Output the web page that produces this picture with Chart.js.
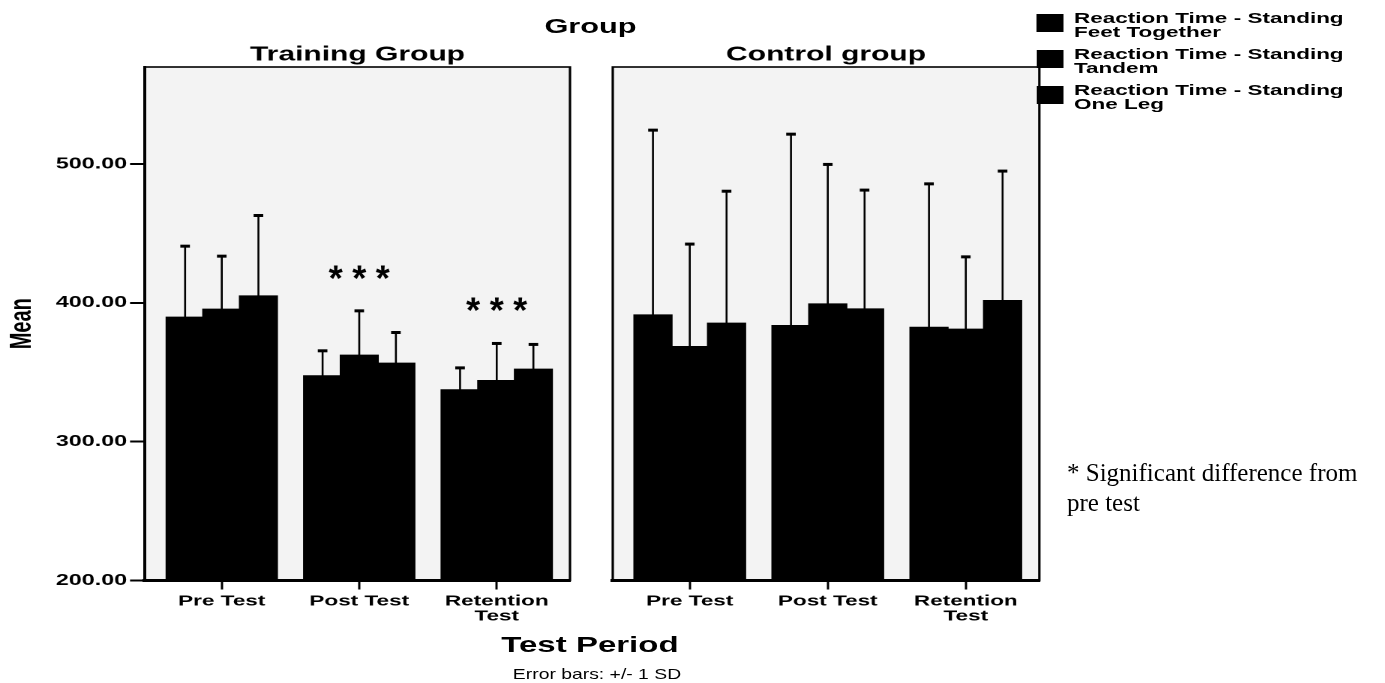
<!DOCTYPE html>
<html><head><meta charset="utf-8">
<script src="https://cdn.jsdelivr.net/npm/chart.js@4.4.1/dist/chart.umd.min.js"></script>
<style>
html,body{margin:0;padding:0;background:#fff;}
body{width:1385px;height:683px;overflow:hidden;position:relative;font-family:'Liberation Sans',Arial,sans-serif;color:#000;}
#stretch{position:absolute;left:0;top:0;width:923.33px;height:683px;transform:scaleX(1.5);transform-origin:0 0;}
canvas{position:absolute;top:0;}
.txt{position:absolute;white-space:nowrap;color:#000;}
.sw{position:absolute;width:18px;height:18px;background:#000;z-index:3;}
.lt{position:absolute;white-space:nowrap;font-weight:bold;font-size:15px;line-height:14px;z-index:3;}
#footnote{position:absolute;left:1067px;top:458px;font-family:'Liberation Serif','Times New Roman',serif;font-size:25px;line-height:30px;white-space:nowrap;color:#000;}
</style></head>
<body>
<div id="stretch">
  <canvas id="leftChart" width="384" height="683" style="left:0px"></canvas>
  <canvas id="rightChart" width="300" height="683" style="left:400px"></canvas>
  <div class="txt" id="groupTitle" style="left:293.7px;width:200px;text-align:center;top:16px;font-weight:bold;font-size:20.5px;line-height:20px;"></div>
  <div id="legend"></div>
  <div class="txt" id="xTitle" style="left:293.3px;width:200px;text-align:center;top:633.5px;font-weight:bold;font-size:22px;line-height:22px;"></div>
  <div class="txt" id="errNote" style="left:298.3px;width:200px;text-align:center;top:666px;font-size:15px;line-height:15px;transform:scaleX(0.86);transform-origin:100px 0;"></div>
</div>
<div id="footnote"></div>
<script>
// ---- data ----
const categories = ['Pre Test', 'Post Test', ['Retention', 'Test']];
const panelTitles = ['Training Group', 'Control group'];
const seriesNames = [
  ['Reaction Time - Standing', 'Feet Together'],
  ['Reaction Time - Standing', 'Tandem'],
  ['Reaction Time - Standing', 'One Leg']
];
const trainingFeetMean   = [389.6, 347.3, 337.2];
const trainingTandemMean = [395.3, 362.2, 343.9];
const trainingOneLegMean = [404.9, 356.4, 352.1];
const trainingFeetSD     = [51.3, 18.2, 16.0];
const trainingTandemSD   = [38.4, 32.1, 26.9];
const trainingOneLegSD   = [58.1, 22.3, 18.0];
const controlFeetMean    = [391.2, 383.5, 382.3];
const controlTandemMean  = [368.4, 399.1, 380.9];
const controlOneLegMean  = [385.2, 395.5, 401.5];
const controlFeetSD      = [133.3, 138.1, 103.5];
const controlTandemSD    = [74.0, 100.7, 52.3];
const controlOneLegSD    = [95.3, 85.8, 93.5];
const yTicks = [200, 300, 400, 500];
const yMin = 200, yMax = 570;
const sigCategories = [1, 2];      // Post Test, Retention Test (training group)
const sigLevels = [423.6, 400.8];  // height of the asterisks
const groupTitle = 'Group';
const xTitle = 'Test Period';
const errNote = 'Error bars: +/- 1 SD';
const footnote = ['* Significant difference from', 'pre test'];

// ---- layout helpers ----
const FONT = "'Liberation Sans', Arial, sans-serif";
const STRETCH = 1.5;

document.getElementById('groupTitle').textContent = groupTitle;
document.getElementById('xTitle').textContent = xTitle;
document.getElementById('errNote').textContent = errNote;
document.getElementById('footnote').innerHTML = footnote.join('<br>');
const legend = document.getElementById('legend');
seriesNames.forEach((n, i) => {
  const sw = document.createElement('div');
  sw.className = 'sw'; sw.style.left = '690.7px'; sw.style.top = (14 + i * 36) + 'px';
  legend.appendChild(sw);
  const t = document.createElement('div');
  t.className = 'lt'; t.style.left = '716px'; t.style.top = (10.5 + i * 36) + 'px';
  t.innerHTML = n.join('<br>');
  legend.appendChild(t);
});

function makeChart(id, title, means, sds, showY, padL, padR, sig) {
  const panelPlugin = {
    id: 'panel' + id,
    beforeDraw(chart) {
      const a = chart.chartArea, c = chart.ctx;
      c.save(); c.fillStyle = '#f3f3f3';
      c.fillRect(a.left, a.top, a.right - a.left, a.bottom - a.top);
      c.restore();
    },
    afterDatasetsDraw(chart) {
      const c = chart.ctx, ys = chart.scales.y, xs = chart.scales.x, a = chart.chartArea;
      c.save();
      c.strokeStyle = '#000';
      // error bars
      sds.forEach((sdArr, di) => {
        const meta = chart.getDatasetMeta(di);
        meta.data.forEach((bar, j) => {
          const m = means[di][j], sd = sdArr[j];
          const yT = ys.getPixelForValue(m + sd), yB = ys.getPixelForValue(m - sd);
          c.lineWidth = 1.3;
          c.beginPath(); c.moveTo(bar.x, yB); c.lineTo(bar.x, yT); c.stroke();
          c.lineWidth = 3;
          c.beginPath(); c.moveTo(bar.x - 3.2, yT); c.lineTo(bar.x + 3.2, yT); c.stroke();
          c.beginPath(); c.moveTo(bar.x - 3.2, yB); c.lineTo(bar.x + 3.2, yB); c.stroke();
        });
      });
      // significance asterisks
      if (sig) {
        c.fillStyle = '#000';
        c.font = 'bold 36px ' + FONT;
        c.textAlign = 'center'; c.textBaseline = 'alphabetic';
        sigCategories.forEach((cat, k) => {
          const xc = xs.getPixelForValue(cat), yc = ys.getPixelForValue(sigLevels[k]);
          [-1, 0, 1].forEach(o => {
            c.save();
            c.translate(xc + o * 15.7, yc + 0.57 * 36);
            c.scale(1 / STRETCH, 1);
            c.fillText('*', 0, 0);
            c.restore();
          });
        });
      }
      // panel frame
      c.lineWidth = 1.6;
      c.strokeRect(a.left, a.top, a.right - a.left, a.bottom - a.top);
      c.restore();
    }
  };
  const yScale = {
    type: 'linear', min: yMin, max: yMax, display: showY,
    afterBuildTicks: s => { s.ticks = yTicks.map(v => ({ value: v })); },
    ticks: {
      callback: v => Number(v).toFixed(2), color: '#000', padding: 2,
      font: { family: FONT, size: 15.5, weight: 'bold' }
    },
    grid: { drawOnChartArea: false, drawTicks: true, tickLength: 10, tickWidth: 2, tickColor: '#000' },
    border: { display: true, color: '#000', width: 2 },
    title: {
      display: true, text: 'Mean', color: '#000',
      font: { family: FONT, size: 20, weight: 'bold' },
      padding: { top: 3, bottom: 0 }
    }
  };
  if (showY) yScale.afterFit = s => { s.width = 96.7; };
  return new Chart(document.getElementById(id), {
    type: 'bar',
    data: {
      datasets: means.map((arr, di) => ({
        label: seriesNames[di].join(' '),
        data: arr.map((v, i) => ({ x: i, y: v })),
        backgroundColor: '#000',
        borderWidth: 0,
        inflateAmount: 0.8,
        barPercentage: 1.0,
        categoryPercentage: 0.8,
        base: yMin
      }))
    },
    options: {
      responsive: false,
      animation: false,
      devicePixelRatio: 2,
      layout: { padding: { left: padL, right: padR, top: 0, bottom: 42.5 } },
      plugins: {
        legend: { display: false },
        tooltip: { enabled: false },
        title: {
          display: true, text: title, fullSize: false, color: '#000',
          font: { family: FONT, size: 20, weight: 'bold', lineHeight: 1 },
          padding: { top: 45, bottom: 2 }
        }
      },
      scales: {
        x: {
          type: 'linear', min: -0.558, max: 2.533, offset: false,
          afterBuildTicks: s => { s.ticks = categories.map((c, i) => ({ value: i })); },
          afterFit: s => { s.height = 60; },
          ticks: {
            callback: v => categories[v], color: '#000', padding: 4.5,
            maxRotation: 0, autoSkip: false,
            font: { family: FONT, size: 15, weight: 'bold', lineHeight: 1 }
          },
          grid: { offset: false, drawOnChartArea: false, drawTicks: true, tickLength: 9, tickWidth: 1.5, tickColor: '#000' },
          border: { display: true, color: '#000', width: 3 }
        },
        y: yScale
      }
    },
    plugins: [panelPlugin]
  });
}

makeChart('leftChart', panelTitles[0],
  [trainingFeetMean, trainingTandemMean, trainingOneLegMean],
  [trainingFeetSD, trainingTandemSD, trainingOneLegSD], true, 0, 4, true);
makeChart('rightChart', panelTitles[1],
  [controlFeetMean, controlTandemMean, controlOneLegMean],
  [controlFeetSD, controlTandemSD, controlOneLegSD], false, 8.5, 7.1, false);
</script>
</body></html>
